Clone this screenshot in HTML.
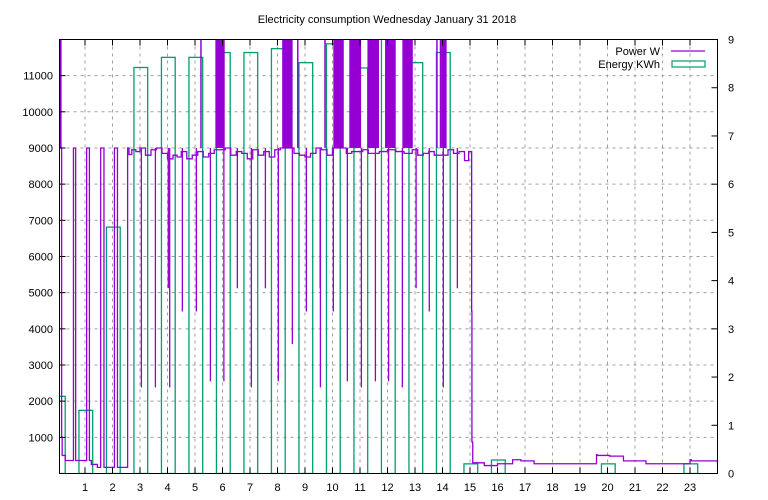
<!DOCTYPE html>
<html><head><meta charset="utf-8"><style>
body{margin:0;background:#fff;}
svg{display:block;font-family:"Liberation Sans",sans-serif;font-size:11px;}
</style></head><body>
<svg id="chart" width="768" height="500" viewBox="0 0 768 500" xmlns="http://www.w3.org/2000/svg">
<rect x="0" y="0" width="768" height="500" fill="#fff"/>
<text x="387" y="23" text-anchor="middle">Electricity consumption Wednesday January 31 2018</text>
<defs><clipPath id="plotclip"><rect x="59.5" y="39.5" width="658" height="434"/></clipPath></defs>
<g id="grid"></g>
<g id="energy" clip-path="url(#plotclip)"></g>
<g id="power" clip-path="url(#plotclip)"></g>
<g id="axes"></g>
<g>
<text x="660" y="55" text-anchor="end">Power W</text>
<line x1="671" y1="51" x2="705" y2="51" stroke="#9400d3" stroke-width="1.2"/>
<text x="660" y="68" text-anchor="end">Energy KWh</text>
<rect x="672" y="61" width="33" height="6" fill="none" stroke="#009e73" stroke-width="1.2"/>
</g>
</svg>
<script>
const hours = [0,1,2,3,4,5,6,7,8,9,10,11,12,13,14,15,16,17,18,19,20,21,22,23];
const energyKWh = [1.6,1.31,5.11,8.42,8.63,8.63,8.73,8.73,8.81,8.52,8.91,8.41,9.5,8.52,8.73,0.2,0.28,0,0,0,0.2,0,0,0.2];
const powerHours = [0.07,0.15,0.17,0.28,0.58,0.66,1.06,1.16,1.23,1.45,1.57,1.69,2.07,2.18,2.55,2.6,2.7,2.85,3.0,3.2,3.4,3.6,3.8,4.0,4.2,4.35,4.5,4.7,4.9,5.1,5.3,5.5,5.7,6.1,6.3,6.5,6.7,6.9,7.1,7.3,7.5,7.7,7.9,8.1,8.6,8.8,9.0,9.2,9.4,9.6,9.8,10.0,10.5,10.7,11.1,11.3,11.7,12.0,12.3,12.6,12.9,13.1,13.3,13.5,13.7,14.2,14.4,14.6,14.8,14.95,15.06,15.07,15.1,15.52,16.0,16.55,16.85,17.33,19.6,19.62,20.08,20.58,21.4,23.0,23.05,24.0];
const powerWatts = [9000,1000,500,360,9000,360,9000,360,250,170,9000,170,9000,170,9000,8820,8950,8900,9000,8800,8950,9000,8850,8700,8800,8750,8900,8700,8800,8900,8750,8850,8950,9000,8800,8900,8850,8700,8950,8800,8900,8750,8950,9000,8850,8800,8750,8850,9000,8950,8800,9000,8850,8900,8950,8850,8900,8950,8900,8850,8950,8800,8850,8900,8800,8950,8850,8900,8650,8900,4480,870,295,220,270,380,350,270,520,500,480,350,270,380,350,270];
const spikeHours = [3.05,3.56,4.03,4.08,4.54,5.05,5.56,6.05,6.54,7.05,7.56,8.03,8.54,9.05,9.55,9.56,10.03,10.54,11.05,11.56,12.04,12.54,13.04,13.52,14.03,14.54];
const spikeWatts = [2380,2380,5120,2380,4480,4480,2550,2550,5120,2380,5120,2550,3580,4480,5120,2380,4480,2550,2380,2550,2550,2380,5120,4480,2380,5120];
const bandStart = [0.07,5.19,5.74,8.17,8.71,9.70,10.03,10.61,11.27,11.91,12.54,13.77,13.90,13.95];
const bandEnd = [0.15,5.24,6.08,8.55,8.76,9.75,10.41,11.04,11.69,12.28,12.92,13.82,13.95,14.15];
const xTickLabels = ["1","2","3","4","5","6","7","8","9","10","11","12","13","14","15","16","17","18","19","20","21","22","23"];
const yTickLabels = ["1000","2000","3000","4000","5000","6000","7000","8000","9000","10000","11000"];
const y2TickLabels = ["0","1","2","3","4","5","6","7","8","9"];

const NS="http://www.w3.org/2000/svg";
const L=59.5,R=717.5,T=39.5,B=473.5;
const xs=h=>57.5+27.5*h;
const yw=w=>B-w*0.03617;
const ye=e=>B-e*48.22;
function mk(tag,attrs,parent){const e=document.createElementNS(NS,tag);for(const k in attrs)e.setAttribute(k,attrs[k]);parent.appendChild(e);return e;}
const grid=document.getElementById('grid'),axes=document.getElementById('axes');
const energy=document.getElementById('energy'),power=document.getElementById('power');
// grid & ticks
xTickLabels.forEach(t=>{const x=xs(+t);
 const g=mk('line',{x1:x,y1:T,x2:x,y2:B,stroke:'#a0a0a0','stroke-dasharray':'3,4','stroke-width':1},grid);
 
 
 mk('line',{x1:x,y1:B,x2:x,y2:B-6,stroke:'#000'},axes);
 mk('line',{x1:x,y1:T,x2:x,y2:T+6,stroke:'#000'},axes);
 const tx=mk('text',{x:x,y:491,'text-anchor':'middle'},axes);tx.textContent=t;
 
 
});
yTickLabels.forEach(t=>{const y=yw(+t);
 const g=mk('line',{x1:L,y1:y,x2:R,y2:y,stroke:'#a0a0a0','stroke-dasharray':'3,4','stroke-width':1},grid);
 
 
 mk('line',{x1:L,y1:y,x2:L+6,y2:y,stroke:'#000'},axes);
 const tx=mk('text',{x:53,y:y+4,'text-anchor':'end'},axes);tx.textContent=t;
 
 
});
y2TickLabels.forEach(t=>{const y=ye(+t);
 mk('line',{x1:R,y1:y,x2:R-6,y2:y,stroke:'#000'},axes);
 const tx=mk('text',{x:728,y:y+4,'text-anchor':'start'},axes);tx.textContent=t;
 
 
});
const border=mk('rect',{x:L,y:T,width:R-L,height:B-T,fill:'none',stroke:'#000','stroke-width':1},axes);


// energy boxes
hours.forEach((h,i)=>{const v=energyKWh[i];if(v<=0)return;
 const x0=xs(h+0.03-0.25),x1=xs(h+0.03+0.25);
 const r=mk('rect',{x:x0,y:ye(v),width:x1-x0,height:B-ye(v),fill:'none',stroke:'#009e73','stroke-width':1.3},energy);
 
 
});
// power bands
bandStart.forEach((s,i)=>{const x0=xs(s),x1=xs(bandEnd[i]);
 const r=mk('rect',{x:x0,y:T-5,width:Math.max(1.5,x1-x0),height:yw(9000)-T+5,fill:'#9400d3'},power);
 
 
});
// power step line
let d='M'+xs(powerHours[0])+','+yw(powerWatts[0]);
for(let i=1;i<powerHours.length;i++){d+=' H'+xs(powerHours[i])+' V'+yw(powerWatts[i]);}
const p=mk('path',{d:d,fill:'none',stroke:'#9400d3','stroke-width':1.3},power);


// spikes
spikeHours.forEach((h,i)=>{const x=xs(h);
 const l=mk('line',{x1:x,y1:yw(9000),x2:x,y2:yw(spikeWatts[i]),stroke:'#9400d3','stroke-width':1.3},power);
 
 
});
</script>
</body></html>
